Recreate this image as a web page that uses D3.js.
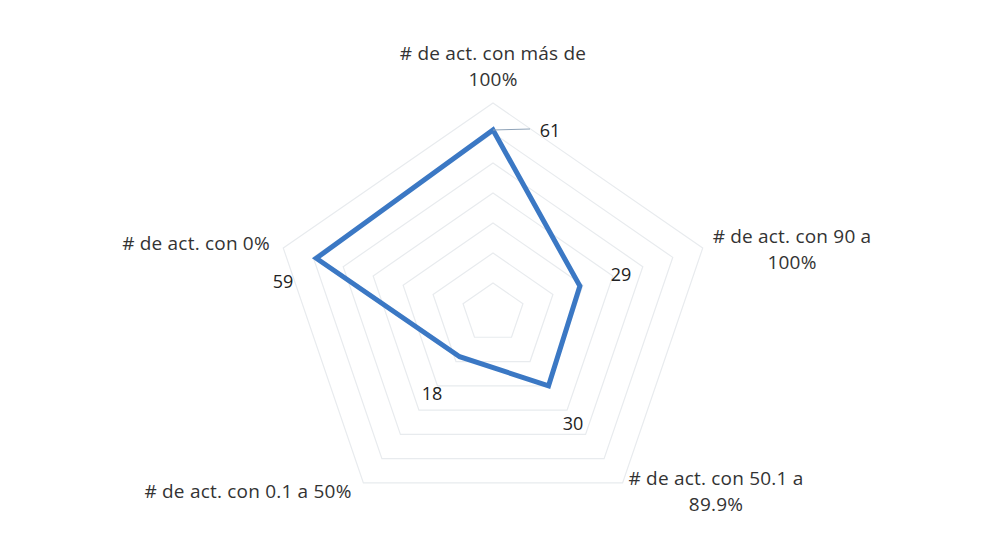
<!DOCTYPE html>
<html>
<head>
<meta charset="utf-8">
<style>
  html, body { margin: 0; padding: 0; background: #fff; }
  svg { display: block; font-family: "Open Sans", Lato, sans-serif; }
</style>
</head>
<body>
<svg width="990" height="559"></svg>
<script src="https://d3js.org/d3.v7.min.js"></script>
<script>
	// data
	const categories = [
		["# de act. con más de", "100%"],
		["# de act. con 90 a", "100%"],
		["# de act. con 50.1 a", "89.9%"],
		["# de act. con 0.1 a 50%"],
		["# de act. con 0%"],
	];
	const values = [61, 29, 30, 18, 59];
	const gridTicks = [10, 20, 30, 40, 50, 60, 70];

	const svg = d3.select("svg");
	const cx = 493, cy = 313;
	const sx = 1.05; // the scanned chart is a little wider than tall
	const r = d3.scaleLinear().domain([0, 70]).range([0, 210]);
	const n = categories.length;
	const angle = (i) => (i * 2 * Math.PI) / n;
	const pt = (i, v) => [cx + sx * r(v) * Math.sin(angle(i)), cy - r(v) * Math.cos(angle(i))];

	// grid pentagons
	const gridG = svg.append("g");
	gridG.selectAll("polygon")
		.data(gridTicks)
		.join("polygon")
		.attr("points", (t) => d3.range(n).map((i) => pt(i, t).join(",")).join(" "))
		.attr("fill", "none")
		.attr("stroke", "#e8ebee")
		.attr("stroke-width", 1.2);

	// series line
	const line = d3.line().curve(d3.curveLinearClosed);
	svg.append("path")
		.attr("d", line(values.map((v, i) => pt(i, v))))
		.attr("fill", "none")
		.attr("stroke", "#3b78c4")
		.attr("stroke-width", 5)
		.attr("stroke-linejoin", "miter");

	// leader line for top label
	const topPt = pt(0, values[0]);
	svg.append("line")
		.attr("x1", topPt[0]).attr("y1", topPt[1])
		.attr("x2", topPt[0] + 37).attr("y2", topPt[1] - 1)
		.attr("stroke", "#8fa3b8")
		.attr("stroke-width", 1);

	// data labels
	const labelPos = [[550, 137], [621, 281], [573, 430], [432, 400], [283, 288]];
	svg.append("g").selectAll("text")
		.data(values)
		.join("text")
		.attr("x", (d, i) => labelPos[i][0])
		.attr("y", (d, i) => labelPos[i][1])
		.attr("text-anchor", "middle")
		.attr("font-size", 18)
		.attr("fill", "#222")
		.text((d) => d);

	// axis labels
	const catPos = [[493, 60], [792, 243], [716, 485], [248, 498], [196, 250]];
	const catG = svg.append("g").selectAll("text")
		.data(categories)
		.join("text")
		.attr("x", (d, i) => catPos[i][0])
		.attr("y", (d, i) => catPos[i][1])
		.attr("text-anchor", "middle")
		.attr("font-size", 19)
		.attr("letter-spacing", 0.2)
		.attr("fill", "#333");
	catG.selectAll("tspan")
		.data((d, i) => d.map((s) => ({ s, x: catPos[i][0] })))
		.join("tspan")
		.attr("x", (d) => d.x)
		.attr("dy", (d, j) => (j === 0 ? 0 : 26))
		.text((d) => d.s);
</script>
</body>
</html>
